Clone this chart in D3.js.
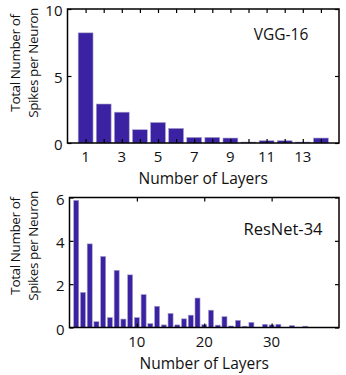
<!DOCTYPE html>
<html>
<head>
<meta charset="utf-8">
<script src="https://cdn.jsdelivr.net/npm/d3@7"></script>
<style>
  body { margin: 0; background: #fff; }
  text { font-family: "Open Sans", sans-serif; fill: #111; }
</style>
</head>
<body>
<div id="chart"></div>
<script>
// VGG-16 panel
var vggLayers = [1, 2, 3, 4, 5, 6, 7, 8, 9, 10, 11, 12, 13, 14];
var vggSpikes = [8.22, 2.91, 2.30, 0.99, 1.53, 1.09, 0.42, 0.42, 0.37, 0.07, 0.17, 0.17, 0.07, 0.37];
var vggXTicks = [1, 3, 5, 7, 9, 11, 13];
var vggYTicks = [0, 5, 10];

// ResNet-34 panel
var resLayers = [1, 2, 3, 4, 5, 6, 7, 8, 9, 10, 11, 12, 13, 14, 15, 16, 17, 18, 19, 20,
                 21, 22, 23, 24, 25, 26, 27, 28, 29, 30, 31, 32, 33, 34, 35];
var resSpikes = [5.87, 1.62, 3.86, 0.27, 3.28, 0.46, 2.64, 0.39, 2.43, 0.46,
                 1.52, 0.18, 0.98, 0.12, 0.65, 0.12, 0.40, 0.57, 1.36, 0.13,
                 0.80, 0.11, 0.50, 0.07, 0.33, 0.06, 0.24, 0, 0.15, 0.12,
                 0.15, 0, 0.09, 0, 0.06];
var resXTicks = [10, 20, 30];
var resYTicks = [0, 2, 4, 6];

var W = 346, H = 375;
var svg = d3.select("#chart").append("svg")
    .attr("width", W).attr("height", H);

function drawPanel(opt) {
    var x = d3.scaleLinear().domain(opt.xDomain).range([opt.left, opt.right]);
    var y = d3.scaleLinear().domain(opt.yDomain).range([opt.bottom, opt.top]);
    var g = svg.append("g");
    var bw = (x(1) - x(0)) * opt.barFrac;

    g.selectAll("rect.bar")
        .data(opt.layers)
        .enter().append("rect")
        .attr("class", "bar")
        .attr("x", (d, i) => x(d) - bw / 2)
        .attr("y", (d, i) => y(opt.values[i]))
        .attr("width", bw)
        .attr("height", (d, i) => y(0) - y(opt.values[i]))
        .attr("fill", "#3b22a3")
        .attr("stroke", "#a9a4c8")
        .attr("stroke-width", 0.6);

    var tl = -4;
    // axes: ticks inward on all four sides
    g.append("g").attr("transform", "translate(0," + opt.bottom + ")")
        .call(d3.axisBottom(x).tickValues(opt.xTickMarks).tickSize(tl).tickFormat(""));
    g.append("g").attr("transform", "translate(0," + opt.top + ")")
        .call(d3.axisTop(x).tickValues(opt.xTickMarks).tickSize(tl).tickFormat(""));
    g.append("g").attr("transform", "translate(" + opt.left + ",0)")
        .call(d3.axisLeft(y).tickValues(opt.yTicks).tickSize(tl).tickFormat(""));
    g.append("g").attr("transform", "translate(" + opt.right + ",0)")
        .call(d3.axisRight(y).tickValues(opt.yTicks).tickSize(tl).tickFormat(""));
    g.selectAll(".domain").remove();
    g.selectAll(".tick line").attr("stroke", "#000").attr("stroke-width", 1.2);

    g.append("rect")
        .attr("x", opt.left).attr("y", opt.top)
        .attr("width", opt.right - opt.left).attr("height", opt.bottom - opt.top)
        .attr("fill", "none").attr("stroke", "#000").attr("stroke-width", 1.5);

    // tick labels
    g.selectAll("text.xl").data(opt.xTicks).enter().append("text")
        .attr("x", d => x(d)).attr("y", opt.bottom + 19)
        .attr("text-anchor", "middle").attr("font-size", 15)
        .text(d => d);
    g.selectAll("text.yl").data(opt.yTicks).enter().append("text")
        .attr("x", opt.left - 5).attr("y", d => y(d) + 7)
        .attr("text-anchor", "end").attr("font-size", 15)
        .text(d => d);

    g.append("text")
        .attr("x", (opt.left + opt.right) / 2).attr("y", opt.bottom + 41)
        .attr("text-anchor", "middle").attr("font-size", 15.5)
        .text("Number of Layers");

    var cy = opt.labelY;
    g.append("text")
        .attr("transform", "translate(20," + cy + ") rotate(-90)")
        .attr("text-anchor", "middle").attr("font-size", 13.5)
        .attr("letter-spacing", -0.4)
        .text("Total Number of");
    g.append("text")
        .attr("transform", "translate(38," + cy + ") rotate(-90)")
        .attr("text-anchor", "middle").attr("font-size", 13.5)
        .attr("letter-spacing", -0.4)
        .text("Spikes per Neuron");

    g.append("text")
        .attr("x", opt.nameX).attr("y", opt.nameY)
        .attr("text-anchor", "middle").attr("font-size", opt.nameSize)
        .text(opt.name);
}

drawPanel({
    layers: vggLayers, values: vggSpikes,
    xDomain: [0, 15], yDomain: [0, 10],
    xTicks: vggXTicks, xTickMarks: vggLayers, yTicks: vggYTicks,
    left: 67.5, right: 339, top: 9, bottom: 143,
    barFrac: 0.82, labelY: 63,
    name: "VGG-16", nameX: 281, nameY: 40, nameSize: 15.5
});

drawPanel({
    layers: resLayers, values: resSpikes,
    xDomain: [0, 40], yDomain: [0, 6],
    xTicks: resXTicks, xTickMarks: resXTicks, yTicks: resYTicks,
    left: 69.5, right: 339, top: 197.5, bottom: 327.5,
    barFrac: 0.75, labelY: 246,
    name: "ResNet-34", nameX: 283, nameY: 235, nameSize: 16.5
});
</script>
</body>
</html>
